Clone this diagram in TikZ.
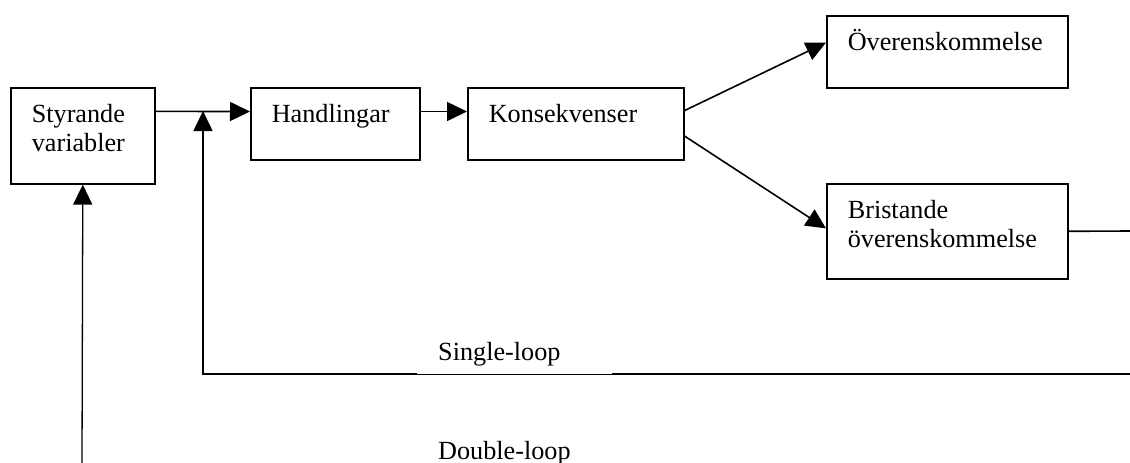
\documentclass[tikz,border=0pt]{standalone}
\usepackage{fontspec}
\setmainfont{Liberation Serif}
\usetikzlibrary{arrows.meta,calc}
\begin{document}
\begin{tikzpicture}[x=1pt,y=-1pt,
  every node/.style={font=\fontsize{26.2}{29}\selectfont},
  box/.style={draw, line width=1.6pt, anchor=north west, inner xsep=21pt, inner ysep=0pt, align=left, text height=35pt},
  link/.style={line width=1.6pt},
  arr/.style={line width=1.6pt, -{Triangle[length=20pt,width=19pt]}},
  lab/.style={inner xsep=21pt, inner ysep=0pt, align=left}]
\useasboundingbox (0,0) rectangle (1130,463);

\node[box, text width=102pt, text depth=61pt] (sty) at (10,87) {Styrande\\variabler};
\node[box, text width=127pt, text depth=37pt] (hand) at (250,87) {Handlingar};
\node[box, text width=174pt, text depth=37pt] (kons) at (467,87) {Konsekvenser};
\node[box, text width=199pt, text depth=37pt] (over) at (826,15) {Överenskommelse};
\node[box, text width=199pt, text depth=60pt] (brist) at (826,183) {Bristande\\överenskommelse};

\draw[arr] ($(sty.north east)!0.25!(sty.south east)$) -- ($(hand.north west)!0.333!(hand.south west)$);
\draw[arr] ($(hand.north east)!0.333!(hand.south east)$) -- ($(kons.north west)!0.333!(kons.south west)$);
\draw[arr] ($(kons.north east)!0.32!(kons.south east)$) -- ($(over.north west)!0.375!(over.south west)$);
\draw[arr] ($(kons.north east)!0.667!(kons.south east)$) -- ($(brist.north west)!0.47!(brist.south west)$);

\coordinate (e1) at (1130,231);
\draw[link] (brist.east) -- (e1);

\coordinate (sl) at (1130,374);
\coordinate (j) at (203,111);
\draw[arr] (sl) -| (j);
\node[lab, fill=white, anchor=south west, text width=153pt, text height=35pt, text depth=13pt] (single) at (417,374) {Single-loop};

\coordinate (dl) at (82,463);
\draw[arr, line width=1.3pt] (dl) -- (sty.south);
\node[lab, anchor=base west] (double) at (417,459) {Double-loop};
\end{tikzpicture}
\end{document}
